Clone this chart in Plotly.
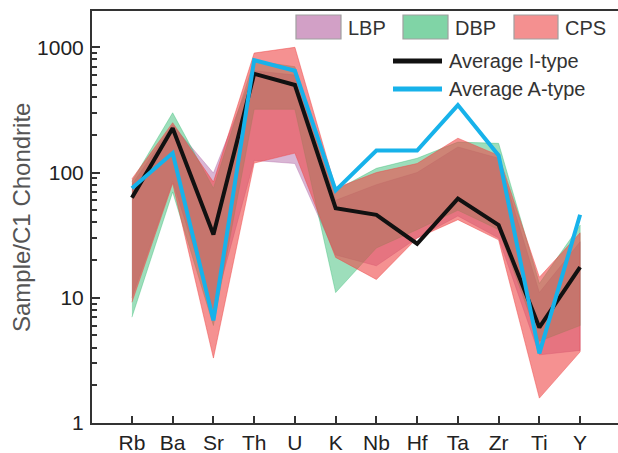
import plotly.graph_objects as go

# Trace elements on the spider diagram (C1-chondrite normalised)
elements = ["Rb", "Ba", "Sr", "Th", "U", "K", "Nb", "Hf", "Ta", "Zr", "Ti", "Y"]

# Range envelopes for each group (min / max)
lbp_low = [10, 85, 8, 125, 118, 22, 18, 30, 45, 30, 3.5, 3.8]
lbp_high = [80, 240, 99, 650, 600, 60, 80, 100, 160, 130, 11, 28]

dbp_low = [7.0, 70, 6, 320, 320, 11, 25, 35, 50, 35, 4.5, 6]
dbp_high = [85, 300, 75, 780, 700, 72, 108, 130, 175, 171, 13, 38]

cps_low = [9.2, 82, 3.3, 119, 143, 21, 14, 30, 42, 29, 1.58, 3.7]
cps_high = [89, 250, 84, 900, 1000, 75, 100, 118, 188, 137, 14.6, 33]

# Average compositions
avg_i_type = [63, 226, 32, 615, 500, 52, 46, 27, 62, 38, 5.8, 17.6]
avg_a_type = [75, 143, 6.6, 790, 650, 72, 150, 150, 346, 137, 3.6, 46]

yaxis_ticks = [1, 10, 100, 1000]

x = list(range(len(elements)))

fig = go.Figure()

bands = [
    ("LBP", lbp_low, lbp_high, "rgba(180,110,170,0.5)"),
    ("DBP", dbp_low, dbp_high, "rgba(60,190,120,0.5)"),
    ("CPS", cps_low, cps_high, "rgba(238,72,72,0.6)"),
]
for name, low, high, col in bands:
    fig.add_trace(go.Scatter(
        x=x + x[::-1], y=high + low[::-1],
        fill="toself", fillcolor=col,
        line=dict(width=0.8, color=col),
        mode="lines", name=name, showlegend=False, hoverinfo="skip",
    ))

fig.add_trace(go.Scatter(x=x, y=avg_i_type, mode="lines",
                         line=dict(color="#111111", width=4),
                         name="Average I-type", showlegend=False))
fig.add_trace(go.Scatter(x=x, y=avg_a_type, mode="lines",
                         line=dict(color="#17b2ea", width=4),
                         name="Average A-type", showlegend=False))

# Plot area in pixels: left 92, right 618, top 11, bottom 423
L, R, T, B = 92, 618, 11, 423


def px(xp):
    return (xp - L) / (R - L)


def py(yp):
    return (B - yp) / (B - T)


FONT = "Liberation Sans, Arial, sans-serif"
shapes = []
annotations = []
txt_font = dict(family=FONT, size=20, color="#333333")

# Filled-range legend row
swatches = [
    ("LBP", 296, 341, 346, "rgb(210,160,198)"),
    ("DBP", 403, 448, 453, "rgb(128,212,166)"),
    ("CPS", 514, 558, 563, "rgb(244,144,144)"),
]
for label, x0, x1, tx, col in swatches:
    shapes.append(dict(type="rect", xref="paper", yref="paper",
                       x0=px(x0), x1=px(x1), y0=py(39), y1=py(15),
                       fillcolor=col, line=dict(color="#a0a0a0", width=1.2)))
    annotations.append(dict(xref="paper", yref="paper", x=px(tx), y=py(28),
                            text=label, showarrow=False, xanchor="left",
                            yanchor="middle", font=txt_font))

# Line legend rows
for label, yy, col in [("Average I-type", 61, "#111111"),
                       ("Average A-type", 89, "#17b2ea")]:
    shapes.append(dict(type="line", xref="paper", yref="paper",
                       x0=px(393), x1=px(442), y0=py(yy), y1=py(yy),
                       line=dict(color=col, width=5)))
    annotations.append(dict(xref="paper", yref="paper", x=px(447), y=py(yy),
                            text=label, showarrow=False, xanchor="left",
                            yanchor="middle", font=txt_font))

# Y-axis title
annotations.append(dict(xref="paper", yref="paper", x=px(21), y=py(218),
                        text="Sample/C1 Chondrite", textangle=-90,
                        showarrow=False, xanchor="center", yanchor="middle",
                        font=dict(family=FONT, size=24, color="#555555")))

axis_font = dict(family=FONT, size=21, color="#222222")

fig.update_layout(
    width=618, height=453,
    margin=dict(l=L, r=618 - R, t=T, b=453 - B),
    paper_bgcolor="white", plot_bgcolor="white",
    shapes=shapes, annotations=annotations,
    showlegend=False,
    xaxis=dict(
        range=[-0.98, 11.93],
        tickmode="array", tickvals=x, ticktext=elements,
        ticks="inside", ticklen=7, tickwidth=2, tickcolor="#333333",
        showline=True, linecolor="#333333", linewidth=2, mirror=True,
        showgrid=False, zeroline=False,
        tickfont=axis_font,
    ),
    yaxis=dict(
        type="log", range=[0, 3.29],
        tickmode="array", tickvals=yaxis_ticks,
        ticktext=[str(v) for v in yaxis_ticks],
        ticks="inside", ticklen=8, tickwidth=2, tickcolor="#333333",
        minor=dict(ticks="inside", ticklen=5, tickwidth=1.5, tickcolor="#333333",
                   tickvals=[m * d for d in [1, 10, 100, 1000] for m in range(2, 10)]),
        showline=True, linecolor="#333333", linewidth=2,
        showgrid=False, zeroline=False,
        tickfont=axis_font,
        ticklabelstandoff=2,
    ),
)

fig.write_html("out.html")
